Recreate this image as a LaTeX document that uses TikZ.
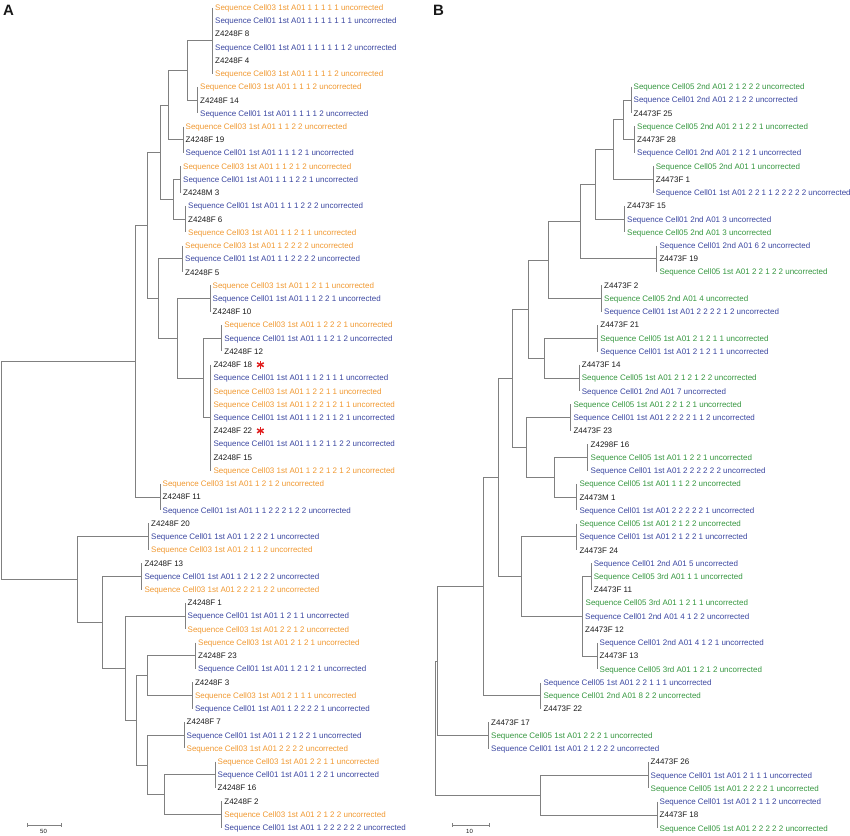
\documentclass[tikz,border=0pt]{standalone}
\usepackage{fontspec}
\setmainfont{Liberation Sans}
\usetikzlibrary{calc}
\definecolor{corange}{RGB}{240,152,48}
\definecolor{cblue}{RGB}{58,70,160}
\definecolor{cgreen}{RGB}{52,150,62}
\definecolor{cblack}{RGB}{25,25,25}
\definecolor{treegrey}{RGB}{128,128,128}
\definecolor{cred}{RGB}{225,30,30}
\newcommand\tipa[5]{\node[#2] (#1) at (#3,{7.5+(#4-1)*13.23}) {#5};}
\newcommand\tipb[5]{\node[#2] (#1) at (#3,{86.7+(#4-1)*13.24}) {#5};}
\newcommand\cladeline[3]{\draw[br] (#1 |- #2.west) -- (#1 |- #3.west);}
\newcommand\kids[3]{\draw[br] (#1) |- (#2); \draw[br] (#1) |- (#3);}
\begin{document}
\begin{tikzpicture}[x=1pt,y=-1pt,
  br/.style={draw=treegrey, line width=0.8pt},
  lbl/.style={anchor=west, inner sep=0pt, font=\fontsize{8}{9}\selectfont, text height=5.8pt, text depth=0pt},
  orn/.style={lbl, text=corange},
  blu/.style={lbl, text=cblue},
  grn/.style={lbl, text=cgreen},
  blk/.style={lbl, text=cblack},
  panel/.style={anchor=base west, inner sep=0pt, font=\bfseries\fontsize{15}{16}\selectfont, text=cblack},
  scl/.style={inner sep=0pt, font=\fontsize{6}{7}\selectfont, text=cblack}]
\useasboundingbox (0,0) rectangle (850,835);

\node[panel] (pA) at (3,15) {A};
\node[panel] (pB) at (433,15) {B};

% ---------------- Panel A tips ----------------
\tipa{a01}{orn}{215}{1}{Sequence Cell03 1st A01 1 1 1 1 1 uncorrected}
\tipa{a02}{blu}{215}{2}{Sequence Cell01 1st A01 1 1 1 1 1 1 1 uncorrected}
\tipa{a03}{blk}{215}{3}{Z4248F 8}
\tipa{a04}{blu}{215}{4}{Sequence Cell01 1st A01 1 1 1 1 1 1 2 uncorrected}
\tipa{a05}{blk}{215}{5}{Z4248F 4}
\tipa{a06}{orn}{215}{6}{Sequence Cell03 1st A01 1 1 1 1 2 uncorrected}
\tipa{a07}{orn}{200}{7}{Sequence Cell03 1st A01 1 1 1 2 uncorrected}
\tipa{a08}{blk}{200}{8}{Z4248F 14}
\tipa{a09}{blu}{200}{9}{Sequence Cell01 1st A01 1 1 1 1 2 uncorrected}
\tipa{a10}{orn}{185.5}{10}{Sequence Cell03 1st A01 1 1 2 2 uncorrected}
\tipa{a11}{blk}{185.5}{11}{Z4248F 19}
\tipa{a12}{blu}{185.5}{12}{Sequence Cell01 1st A01 1 1 1 2 1 uncorrected}
\tipa{a13}{orn}{183}{13}{Sequence Cell03 1st A01 1 1 2 1 2 uncorrected}
\tipa{a14}{blu}{183}{14}{Sequence Cell01 1st A01 1 1 1 2 2 1 uncorrected}
\tipa{a15}{blk}{183}{15}{Z4248M 3}
\tipa{a16}{blu}{188}{16}{Sequence Cell01 1st A01 1 1 1 2 2 2 uncorrected}
\tipa{a17}{blk}{188}{17}{Z4248F 6}
\tipa{a18}{orn}{188}{18}{Sequence Cell03 1st A01 1 1 2 1 1 uncorrected}
\tipa{a19}{orn}{185}{19}{Sequence Cell03 1st A01 1 2 2 2 2 uncorrected}
\tipa{a20}{blu}{185}{20}{Sequence Cell01 1st A01 1 1 2 2 2 2 uncorrected}
\tipa{a21}{blk}{185}{21}{Z4248F 5}
\tipa{a22}{orn}{212.5}{22}{Sequence Cell03 1st A01 1 2 1 1 uncorrected}
\tipa{a23}{blu}{212.5}{23}{Sequence Cell01 1st A01 1 1 2 2 1 uncorrected}
\tipa{a24}{blk}{212.5}{24}{Z4248F 10}
\tipa{a25}{orn}{224.2}{25}{Sequence Cell03 1st A01 1 2 2 2 1 uncorrected}
\tipa{a26}{blu}{224.2}{26}{Sequence Cell01 1st A01 1 1 2 1 2 uncorrected}
\tipa{a27}{blk}{224.2}{27}{Z4248F 12}
\tipa{a28}{blk}{213.3}{28}{Z4248F 18}
\tipa{a29}{blu}{213.3}{29}{Sequence Cell01 1st A01 1 1 2 1 1 1 uncorrected}
\tipa{a30}{orn}{213.3}{30}{Sequence Cell03 1st A01 1 2 2 1 1 uncorrected}
\tipa{a31}{orn}{213.3}{31}{Sequence Cell03 1st A01 1 2 2 1 2 1 1 uncorrected}
\tipa{a32}{blu}{213.3}{32}{Sequence Cell01 1st A01 1 1 2 1 1 2 1 uncorrected}
\tipa{a33}{blk}{213.3}{33}{Z4248F 22}
\tipa{a34}{blu}{213.3}{34}{Sequence Cell01 1st A01 1 1 2 1 1 2 2 uncorrected}
\tipa{a35}{blk}{213.3}{35}{Z4248F 15}
\tipa{a36}{orn}{213.3}{36}{Sequence Cell03 1st A01 1 2 2 1 2 1 2 uncorrected}
\tipa{a37}{orn}{162.5}{37}{Sequence Cell03 1st A01 1 2 1 2 uncorrected}
\tipa{a38}{blk}{162.5}{38}{Z4248F 11}
\tipa{a39}{blu}{162.5}{39}{Sequence Cell01 1st A01 1 1 2 2 2 1 2 2 uncorrected}
\tipa{a40}{blk}{151}{40}{Z4248F 20}
\tipa{a41}{blu}{151}{41}{Sequence Cell01 1st A01 1 2 2 2 1 uncorrected}
\tipa{a42}{orn}{151}{42}{Sequence Cell03 1st A01 2 1 1 2 uncorrected}
\tipa{a43}{blk}{144.3}{43}{Z4248F 13}
\tipa{a44}{blu}{144.3}{44}{Sequence Cell01 1st A01 1 2 1 2 2 2 uncorrected}
\tipa{a45}{orn}{144.3}{45}{Sequence Cell03 1st A01 2 2 2 1 2 2 uncorrected}
\tipa{a46}{blk}{187.5}{46}{Z4248F 1}
\tipa{a47}{blu}{187.5}{47}{Sequence Cell01 1st A01 1 2 1 1 uncorrected}
\tipa{a48}{orn}{187.5}{48}{Sequence Cell03 1st A01 2 2 1 2 uncorrected}
\tipa{a49}{orn}{198}{49}{Sequence Cell03 1st A01 2 1 2 1 uncorrected}
\tipa{a50}{blk}{198}{50}{Z4248F 23}
\tipa{a51}{blu}{198}{51}{Sequence Cell01 1st A01 1 2 1 2 1 uncorrected}
\tipa{a52}{blk}{194.8}{52}{Z4248F 3}
\tipa{a53}{orn}{194.8}{53}{Sequence Cell03 1st A01 2 1 1 1 uncorrected}
\tipa{a54}{blu}{194.8}{54}{Sequence Cell01 1st A01 1 2 2 2 2 1 uncorrected}
\tipa{a55}{blk}{186.5}{55}{Z4248F 7}
\tipa{a56}{blu}{186.5}{56}{Sequence Cell01 1st A01 1 2 1 2 2 1 uncorrected}
\tipa{a57}{orn}{186.5}{57}{Sequence Cell03 1st A01 2 2 2 2 uncorrected}
\tipa{a58}{orn}{217.5}{58}{Sequence Cell03 1st A01 2 2 1 1 uncorrected}
\tipa{a59}{blu}{217.5}{59}{Sequence Cell01 1st A01 1 2 2 1 uncorrected}
\tipa{a60}{blk}{217.5}{60}{Z4248F 16}
\tipa{a61}{blk}{224.2}{61}{Z4248F 2}
\tipa{a62}{orn}{224.2}{62}{Sequence Cell03 1st A01 2 1 2 2 uncorrected}
\tipa{a63}{blu}{224.2}{63}{Sequence Cell01 1st A01 1 2 2 2 2 2 2 uncorrected}

% red asterisks
\coordinate (s1) at ($(a28.east)+(8,0)$);
\coordinate (s2) at ($(a33.east)+(8,0)$);
\foreach \s in {s1,s2}{
  \foreach \a in {90,30,150}{
    \draw[cred, line width=1.5pt] ($(\s)+(\a:3.8)$) -- ($(\s)+(\a+180:3.8)$);
  }
}

% ---------------- Panel A tree ----------------
\coordinate (cA1) at (212.5,40.58);
\coordinate (cA2) at (197.7,100.11);
\coordinate (cA3) at (183,139.80);
\coordinate (cA4) at (180.5,179.49);
\coordinate (cA5) at (185.5,219.18);
\coordinate (cA6) at (182.5,258.87);
\coordinate (cA7) at (210,298.56);
\coordinate (cA8) at (221.7,338.25);
\coordinate (cA9) at (210.8,417.63);
\coordinate (cA10) at (160,497.01);
\coordinate (cA11) at (148.5,536.70);
\coordinate (cA12) at (141.8,576.39);
\coordinate (cA13) at (185,616.08);
\coordinate (cA14) at (195.5,655.77);
\coordinate (cA15) at (192.3,695.46);
\coordinate (cA16) at (184,735.15);
\coordinate (cA17) at (215,774.84);
\coordinate (cA18) at (221.7,814.53);

\cladeline{cA1}{a01}{a06}
\cladeline{cA2}{a07}{a09}
\cladeline{cA3}{a10}{a12}
\cladeline{cA4}{a13}{a15}
\cladeline{cA5}{a16}{a18}
\cladeline{cA6}{a19}{a21}
\cladeline{cA7}{a22}{a24}
\cladeline{cA8}{a25}{a27}
\cladeline{cA9}{a28}{a36}
\cladeline{cA10}{a37}{a39}
\cladeline{cA11}{a40}{a42}
\cladeline{cA12}{a43}{a45}
\cladeline{cA13}{a46}{a48}
\cladeline{cA14}{a49}{a51}
\cladeline{cA15}{a52}{a54}
\cladeline{cA16}{a55}{a57}
\cladeline{cA17}{a58}{a60}
\cladeline{cA18}{a61}{a63}

\coordinate (nA1) at (187,70.35);
\coordinate (nA2) at (168,105.07);
\coordinate (nA3) at (173,199.33);
\coordinate (nA4) at (160,152.20);
\coordinate (nA5) at (203,377.94);
\coordinate (nA6) at (177,338.25);
\coordinate (nA7) at (158,298.56);
\coordinate (nA8) at (147,225.38);
\coordinate (nA9) at (135.5,361.20);
\coordinate (mA1) at (164,794.69);
\coordinate (mA2) at (147,764.92);
\coordinate (mA3) at (147,675.62);
\coordinate (mA4) at (136,720.27);
\coordinate (mA5) at (125,668.18);
\coordinate (mA6) at (102,622.29);
\coordinate (qA) at (77,579.50);
\coordinate (rA) at (1.2,470.35);

\kids{nA1}{cA1}{cA2}
\kids{nA2}{nA1}{cA3}
\kids{nA3}{cA4}{cA5}
\kids{nA4}{nA2}{nA3}
\kids{nA5}{cA8}{cA9}
\kids{nA6}{cA7}{nA5}
\kids{nA7}{cA6}{nA6}
\kids{nA8}{nA4}{nA7}
\kids{nA9}{nA8}{cA10}
\kids{mA1}{cA17}{cA18}
\kids{mA2}{cA16}{mA1}
\kids{mA3}{cA14}{cA15}
\kids{mA4}{mA3}{mA2}
\kids{mA5}{cA13}{mA4}
\kids{mA6}{cA12}{mA5}
\kids{qA}{cA11}{mA6}
\kids{rA}{nA9}{qA}

% scale bar A
\coordinate (sa1) at (27,825);
\coordinate (sa2) at (61,825);
\draw[br, line width=0.6pt] (sa1) -- (sa2);
\draw[br, line width=0.6pt] ($(sa1)+(0,-2)$) -- ($(sa1)+(0,2)$);
\draw[br, line width=0.6pt] ($(sa2)+(0,-2)$) -- ($(sa2)+(0,2)$);
\node[scl] (la) at (43.5,831.5) {50};

% ---------------- Panel B tips ----------------
\tipb{b01}{grn}{633.5}{1}{Sequence Cell05 2nd A01 2 1 2 2 2 uncorrected}
\tipb{b02}{blu}{633.5}{2}{Sequence Cell01 2nd A01 2 1 2 2 uncorrected}
\tipb{b03}{blk}{633.5}{3}{Z4473F 25}
\tipb{b04}{grn}{637}{4}{Sequence Cell05 2nd A01 2 1 2 2 1 uncorrected}
\tipb{b05}{blk}{637}{5}{Z4473F 28}
\tipb{b06}{blu}{637}{6}{Sequence Cell01 2nd A01 2 1 2 1 uncorrected}
\tipb{b07}{grn}{655.7}{7}{Sequence Cell05 2nd A01 1 uncorrected}
\tipb{b08}{blk}{655.7}{8}{Z4473F 1}
\tipb{b09}{blu}{655.7}{9}{Sequence Cell01 1st A01 2 2 1 1 2 2 2 2 2 uncorrected}
\tipb{b10}{blk}{627}{10}{Z4473F 15}
\tipb{b11}{blu}{627}{11}{Sequence Cell01 2nd A01 3 uncorrected}
\tipb{b12}{grn}{627}{12}{Sequence Cell05 2nd A01 3 uncorrected}
\tipb{b13}{blu}{659.3}{13}{Sequence Cell01 2nd A01 6 2 uncorrected}
\tipb{b14}{blk}{659.3}{14}{Z4473F 19}
\tipb{b15}{grn}{659.3}{15}{Sequence Cell05 1st A01 2 2 1 2 2 uncorrected}
\tipb{b16}{blk}{604}{16}{Z4473F 2}
\tipb{b17}{grn}{604}{17}{Sequence Cell05 2nd A01 4 uncorrected}
\tipb{b18}{blu}{604}{18}{Sequence Cell01 1st A01 2 2 2 2 1 2 uncorrected}
\tipb{b19}{blk}{600.2}{19}{Z4473F 21}
\tipb{b20}{grn}{600.2}{20}{Sequence Cell05 1st A01 2 1 2 1 1 uncorrected}
\tipb{b21}{blu}{600.2}{21}{Sequence Cell01 1st A01 2 1 2 1 1 uncorrected}
\tipb{b22}{blk}{581.7}{22}{Z4473F 14}
\tipb{b23}{grn}{581.7}{23}{Sequence Cell05 1st A01 2 1 2 1 2 2 uncorrected}
\tipb{b24}{blu}{581.7}{24}{Sequence Cell01 2nd A01 7 uncorrected}
\tipb{b25}{grn}{573.3}{25}{Sequence Cell05 1st A01 2 2 1 2 1 uncorrected}
\tipb{b26}{blu}{573.3}{26}{Sequence Cell01 1st A01 2 2 2 2 1 1 2 uncorrected}
\tipb{b27}{blk}{573.3}{27}{Z4473F 23}
\tipb{b28}{blk}{590.5}{28}{Z4298F 16}
\tipb{b29}{grn}{590.5}{29}{Sequence Cell05 1st A01 1 2 2 1 uncorrected}
\tipb{b30}{blu}{590.5}{30}{Sequence Cell01 1st A01 2 2 2 2 2 2 uncorrected}
\tipb{b31}{grn}{579.3}{31}{Sequence Cell05 1st A01 1 1 2 2 uncorrected}
\tipb{b32}{blk}{579.3}{32}{Z4473M 1}
\tipb{b33}{blu}{579.3}{33}{Sequence Cell01 1st A01 2 2 2 2 2 1 uncorrected}
\tipb{b34}{grn}{579.3}{34}{Sequence Cell05 1st A01 2 1 2 2 uncorrected}
\tipb{b35}{blu}{579.3}{35}{Sequence Cell01 1st A01 2 1 2 2 1 uncorrected}
\tipb{b36}{blk}{579.3}{36}{Z4473F 24}
\tipb{b37}{blu}{593.7}{37}{Sequence Cell01 2nd A01 5 uncorrected}
\tipb{b38}{grn}{593.7}{38}{Sequence Cell05 3rd A01 1 1 uncorrected}
\tipb{b39}{blk}{593.7}{39}{Z4473F 11}
\tipb{b40}{grn}{585.5}{40}{Sequence Cell05 3rd A01 1 2 1 1 uncorrected}
\tipb{b41}{blu}{585}{41}{Sequence Cell01 2nd A01 4 1 2 2 uncorrected}
\tipb{b42}{blk}{585}{42}{Z4473F 12}
\tipb{b43}{blu}{599.5}{43}{Sequence Cell01 2nd A01 4 1 2 1 uncorrected}
\tipb{b44}{blk}{599.5}{44}{Z4473F 13}
\tipb{b45}{grn}{599.5}{45}{Sequence Cell05 3rd A01 1 2 1 2 uncorrected}
\tipb{b46}{blu}{543.3}{46}{Sequence Cell05 1st A01 2 2 1 1 1 uncorrected}
\tipb{b47}{grn}{543.3}{47}{Sequence Cell01 2nd A01 8 2 2 uncorrected}
\tipb{b48}{blk}{543.3}{48}{Z4473F 22}
\tipb{b49}{blk}{491}{49}{Z4473F 17}
\tipb{b50}{grn}{491}{50}{Sequence Cell05 1st A01 2 2 2 1 uncorrected}
\tipb{b51}{blu}{491}{51}{Sequence Cell01 1st A01 2 1 2 2 2 uncorrected}
\tipb{b52}{blk}{650.5}{52}{Z4473F 26}
\tipb{b53}{blu}{650.5}{53}{Sequence Cell01 1st A01 2 1 1 1 uncorrected}
\tipb{b54}{grn}{650.5}{54}{Sequence Cell05 1st A01 2 2 2 2 1 uncorrected}
\tipb{b55}{blu}{659.5}{55}{Sequence Cell01 1st A01 2 1 1 2 uncorrected}
\tipb{b56}{blk}{659.5}{56}{Z4473F 18}
\tipb{b57}{grn}{659.5}{57}{Sequence Cell05 1st A01 2 2 2 2 2 uncorrected}

% ---------------- Panel B tree ----------------
\coordinate (cB1) at (631,99.94);
\coordinate (cB2) at (634.7,139.66);
\coordinate (cB3) at (653.3,179.38);
\coordinate (cB4) at (624.7,219.10);
\coordinate (cB5) at (656.8,258.82);
\coordinate (cB6) at (601.5,298.54);
\coordinate (cB7) at (597.7,338.26);
\coordinate (cB8) at (579,377.98);
\coordinate (cB9) at (570.8,417.70);
\coordinate (cB10) at (587.8,457.42);
\coordinate (cB11) at (576.8,497.14);
\coordinate (cB12) at (576.8,536.86);
\coordinate (cB13) at (591.3,576.58);
\coordinate (cB14) at (582.5,616.30);
\coordinate (cB15) at (597,656.02);
\coordinate (cB16) at (540.5,695.74);
\coordinate (cB17) at (488.3,735.46);
\coordinate (cB18) at (648,775.18);
\coordinate (cB19) at (657,814.90);

\cladeline{cB1}{b01}{b03}
\cladeline{cB2}{b04}{b06}
\cladeline{cB3}{b07}{b09}
\cladeline{cB4}{b10}{b12}
\cladeline{cB5}{b13}{b15}
\cladeline{cB6}{b16}{b18}
\cladeline{cB7}{b19}{b21}
\cladeline{cB8}{b22}{b24}
\cladeline{cB9}{b25}{b27}
\cladeline{cB10}{b28}{b30}
\cladeline{cB11}{b31}{b33}
\cladeline{cB12}{b34}{b36}
\cladeline{cB13}{b37}{b39}
\cladeline{cB15}{b43}{b45}
\cladeline{cB16}{b46}{b48}
\cladeline{cB17}{b49}{b51}
\cladeline{cB18}{b52}{b54}
\cladeline{cB19}{b55}{b57}

\coordinate (nB1) at (623,119.80);
\coordinate (nB2) at (613,149.59);
\coordinate (nB3) at (595,184.35);
\coordinate (nB4) at (580,221.58);
\coordinate (nB5) at (548,260.06);
\coordinate (nB6) at (544,358.12);
\coordinate (nB7) at (528,309.09);
\coordinate (nB8) at (554,477.28);
\coordinate (nB9) at (526,447.49);
\coordinate (nB10) at (512,378.29);
\coordinate (nB11) at (521,576.58);
\coordinate (nB12) at (498,477.44);
\coordinate (nB13) at (483,586.59);
\coordinate (nB14) at (437,661.03);
\coordinate (nB15) at (540,795.04);
\coordinate (rB) at (435,728.04);

\kids{nB1}{cB1}{cB2}
\kids{nB2}{nB1}{cB3}
\kids{nB3}{nB2}{cB4}
\kids{nB4}{nB3}{cB5}
\kids{nB5}{nB4}{cB6}
\kids{nB6}{cB7}{cB8}
\kids{nB7}{nB5}{nB6}
\kids{nB8}{cB10}{cB11}
\kids{nB9}{cB9}{nB8}
\kids{nB10}{nB7}{nB9}
\kids{cB14}{cB13}{cB15}
\kids{nB11}{cB12}{cB14}
\kids{nB12}{nB10}{nB11}
\kids{nB13}{nB12}{cB16}
\kids{nB14}{nB13}{cB17}
\kids{nB15}{cB18}{cB19}
\kids{rB}{nB14}{nB15}

% scale bar B
\coordinate (sb1) at (452,825);
\coordinate (sb2) at (489,825);
\draw[br, line width=0.6pt] (sb1) -- (sb2);
\draw[br, line width=0.6pt] ($(sb1)+(0,-2)$) -- ($(sb1)+(0,2)$);
\draw[br, line width=0.6pt] ($(sb2)+(0,-2)$) -- ($(sb2)+(0,2)$);
\node[scl] (lb) at (469.5,831.5) {10};
\end{tikzpicture}
\end{document}
